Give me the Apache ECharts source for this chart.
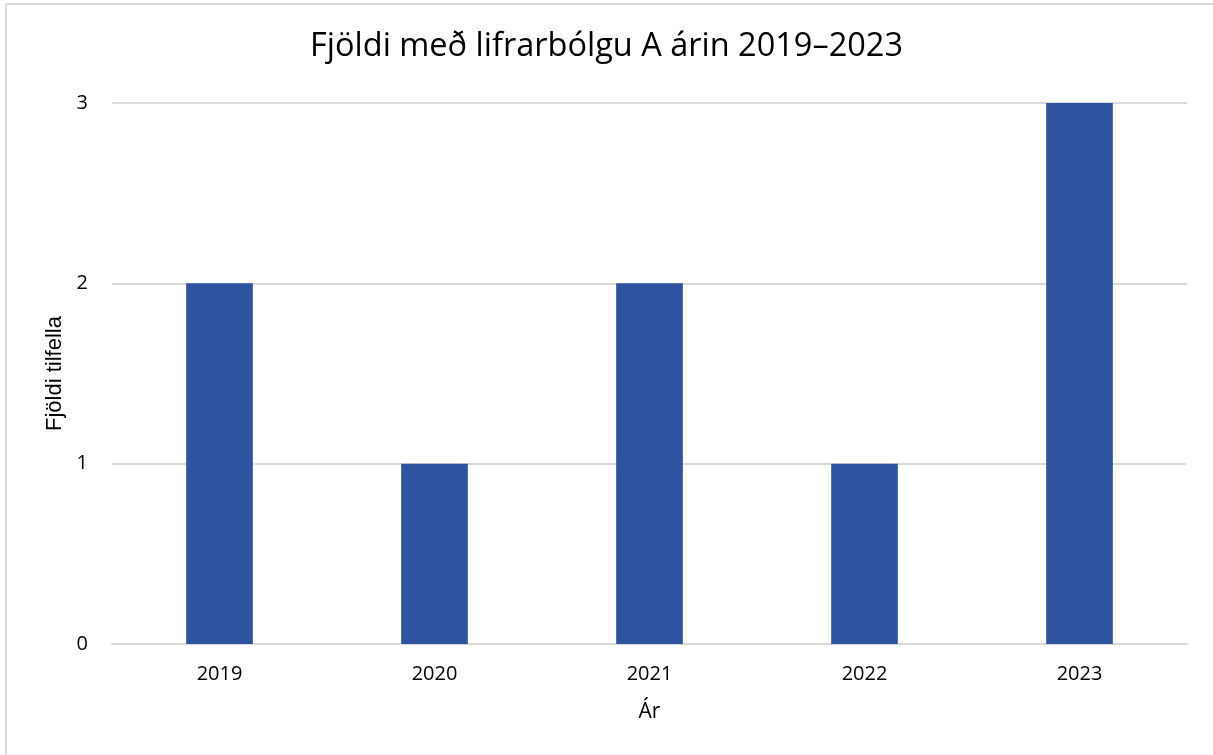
<!DOCTYPE html>
<html>
<head>
<meta charset="utf-8">
<script src="https://cdn.jsdelivr.net/npm/echarts@6/dist/echarts.min.js"></script>
<style>
  html, body { margin: 0; padding: 0; background: #fff; }
  #chart { width: 1213px; height: 755px; }
</style>
</head>
<body>
<div id="chart"></div>
<script>
// gögn
const years = ['2019', '2020', '2021', '2022', '2023'];
const cases = [2, 1, 2, 1, 3];
const yTicks = [0, 1, 2, 3];

const chart = echarts.init(document.getElementById('chart'));

const option = {
  backgroundColor: '#ffffff',
  animation: false,
  title: {
    text: 'Fjöldi með lifrarbólgu A árin 2019–2023',
    left: 'center',
    top: 25,
    textStyle: {
      fontFamily: 'Open Sans',
      fontWeight: 'normal',
      fontSize: 32.5,
      color: '#000000'
    }
  },
  // ramminn um myndina (bara efri og vinstri brún sjáanleg)
  graphic: [
    { type: 'line', shape: { x1: 6, y1: 4, x2: 1213, y2: 4 }, style: { stroke: '#d9d9d9', lineWidth: 2 } },
    { type: 'line', shape: { x1: 6, y1: 4, x2: 6, y2: 755 }, style: { stroke: '#d9d9d9', lineWidth: 2 } }
  ],
  grid: {
    left: 112,
    right: 26,
    top: 103,
    bottom: 111
  },
  xAxis: {
    type: 'category',
    data: years,
    name: 'Ár',
    nameLocation: 'middle',
    nameGap: 58,
    nameTextStyle: { fontFamily: 'Open Sans', fontSize: 21, color: '#000' },
    axisLine: { lineStyle: { color: '#d9d9d9', width: 2 } },
    axisTick: { show: false },
    axisLabel: { fontFamily: 'Open Sans', fontSize: 20, color: '#000', margin: 20 }
  },
  yAxis: {
    type: 'value',
    min: yTicks[0],
    max: yTicks[yTicks.length - 1],
    interval: 1,
    name: 'Fjöldi tilfella',
    nameLocation: 'middle',
    nameGap: 46,
    nameTextStyle: { fontFamily: 'Liberation Sans', fontSize: 22, color: '#000' },
    axisLine: { show: false },
    axisTick: { show: false },
    axisLabel: { fontFamily: 'Open Sans', fontSize: 20, color: '#000', margin: 24 },
    splitLine: { lineStyle: { color: '#d9d9d9', width: 2 } }
  },
  series: [{
    type: 'bar',
    data: cases,
    barWidth: '31%',
    itemStyle: { color: '#2e53a1' }
  }]
};

chart.setOption(option);
</script>
</body>
</html>
